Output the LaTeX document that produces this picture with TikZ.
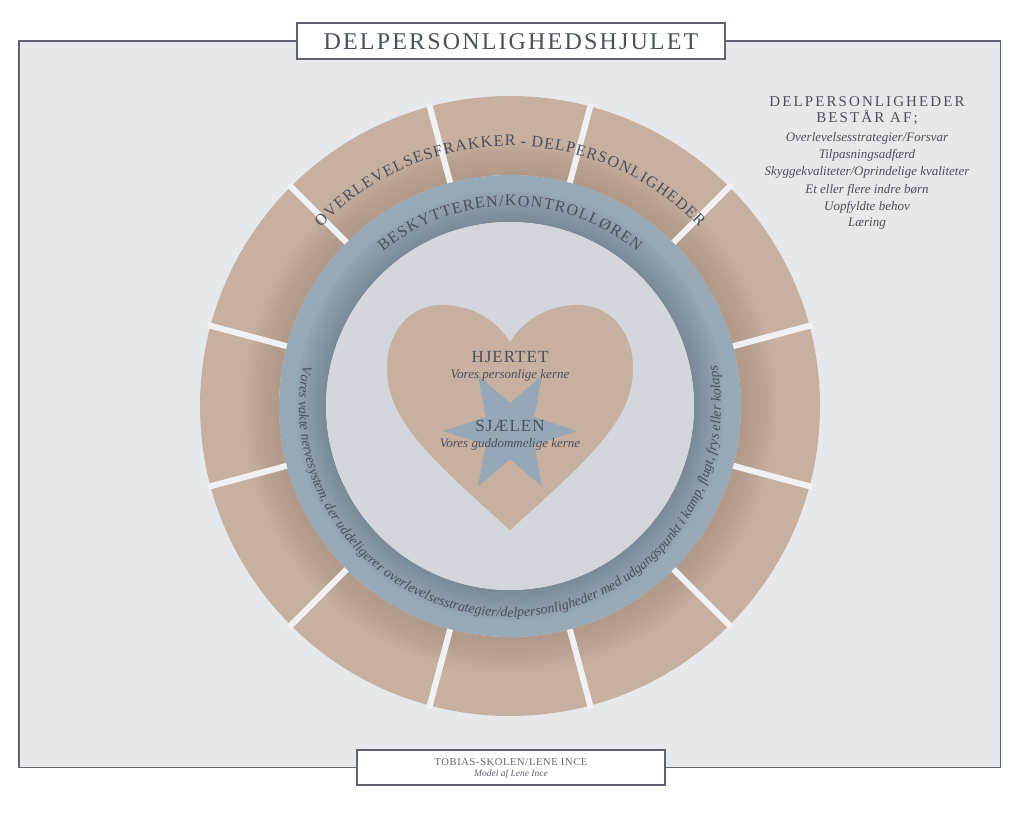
\documentclass[tikz,border=0pt]{standalone}
\usepackage{fontspec}
\setmainfont{Liberation Serif}
\usetikzlibrary{decorations.text}
\definecolor{bg}{HTML}{E7E8EB}
\definecolor{framec}{HTML}{5F6470}
\definecolor{tanc}{HTML}{C7B09F}
\definecolor{tandark}{HTML}{8E7666}
\definecolor{bluec}{HTML}{97A8B6}
\definecolor{bluedark}{HTML}{4E5A67}
\definecolor{innerc}{HTML}{D3D7DD}
\definecolor{gapc}{HTML}{F1F1F3}
\definecolor{txt}{HTML}{4A4F5C}
\definecolor{starc}{HTML}{96A8B8}
\newcommand\lspa{\kern1.15pt}
\newcommand\lspb{\kern1.2pt}
\tikzset{
  boxstyle/.style={draw=framec, line width=1.6pt, fill=white},
  captext/.style={text=txt, inner sep=0pt},
  ringtext/.style={decorate, decoration={text along path, text color=txt, text align=center}},
}
\begin{document}
\begin{tikzpicture}[x=1pt,y=1pt]
\useasboundingbox (0,0) rectangle (1024,815);
\fill[white] (0,0) rectangle (1024,815);
\fill[bg] (19,47.5) rectangle (1000.5,774);
\draw[framec, line width=1.4pt] (19,47.5) rectangle (1000.5,774);

\begin{scope}[shift={(510,409)}]
  % tan ring
  \fill[tanc, even odd rule] (0,0) circle (310) (0,0) circle (231);
  \foreach \k in {1,...,14}
    \fill[tandark, opacity=0.022, even odd rule] (0,0) circle ({231+2.6*\k}) (0,0) circle (231);
  \foreach \a in {15,45,...,345}
    \draw[gapc, line width=6pt] (\a:229) -- (\a:313);
  % blue ring
  \fill[bluec, even odd rule] (0,0) circle (231) (0,0) circle (184);
  \foreach \k in {1,...,14}
    \fill[bluedark, opacity=0.028, even odd rule] (0,0) circle ({184+2.2*\k}) (0,0) circle (184);
  % inner circle
  \fill[innerc] (0,0) circle (184);
  % heart
  \fill[tanc] (0,64) .. controls (-15,88) and (-40,101) .. (-68,101)
     .. controls (-102,101) and (-123,72) .. (-123,38)
     .. controls (-123,-12) and (-85,-48) .. (0,-124)
     .. controls (85,-48) and (123,-12) .. (123,38)
     .. controls (123,72) and (102,101) .. (68,101)
     .. controls (40,101) and (15,88) .. (0,64) -- cycle;
  % star
  \fill[starc, shift={(0,-25)}] (0:67) -- (30:28) -- (60:64) -- (90:28) -- (120:64) -- (150:28)
     -- (180:67) -- (210:28) -- (240:64) -- (270:28) -- (300:64) -- (330:28) -- cycle;
  % texts in heart
  \node[captext, font=\fontsize{17}{20}\selectfont\addfontfeature{LetterSpace=6}] (hj) at (0,49) {HJERTET};
  \node[captext, font=\fontsize{13}{15}\selectfont\itshape] (hjs) at (0,31) {Vores personlige kerne};
  \node[captext, font=\fontsize{17}{20}\selectfont\addfontfeature{LetterSpace=6}] (sj) at (0,-20) {SJÆLEN};
  \node[captext, font=\fontsize{13}{15}\selectfont\itshape] (sjs) at (0,-38) {Vores guddommelige kerne};
  % ring texts
  \path[ringtext, decoration={
     text={|\fontsize{16}{18}\selectfont|{O\lspa}{V\lspa}{E\lspa}{R\lspa}{L\lspa}{E\lspa}{V\lspa}{E\lspa}{L\lspa}{S\lspa}{E\lspa}{S\lspa}{F\lspa}{R\lspa}{A\lspa}{K\lspa}{K\lspa}{E\lspa}{R\lspa} {-\lspa} {D\lspa}{E\lspa}{L\lspa}{P\lspa}{E\lspa}{R\lspa}{S\lspa}{O\lspa}{N\lspa}{L\lspa}{I\lspa}{G\lspa}{H\lspa}{E\lspa}{D\lspa}{E\lspa}{R}}}]
     (140:260) arc[start angle=140, end angle=40, radius=260];
  \path[ringtext, decoration={
     text={|\fontsize{16}{18}\selectfont|{B\lspb}{E\lspb}{S\lspb}{K\lspb}{Y\lspb}{T\lspb}{T\lspb}{E\lspb}{R\lspb}{E\lspb}{N\lspb}{/\lspb}{K\lspb}{O\lspb}{N\lspb}{T\lspb}{R\lspb}{O\lspb}{L\lspb}{L\lspb}{Ø\lspb}{R\lspb}{E\lspb}{N}}}]
     (135:200) arc[start angle=135, end angle=45, radius=200];
  \path[ringtext, decoration={
     text={|\fontsize{14}{16}\selectfont\itshape|Vores vakte nervesystem, der uddeligerer overlevelsesstrategier/delpersonligheder med udgangspunkt i kamp, flugt, frys eller kolaps}}]
     (165:211) arc[start angle=165, end angle=375, radius=211];
\end{scope}

% title box
\draw[boxstyle] (297,756) rectangle (725,792);
\node[captext, font=\fontsize{24}{26}\selectfont\addfontfeature{LetterSpace=9}] (title) at (511,773) {DELPERSONLIGHEDSHJULET};

% bottom box
\draw[boxstyle] (357,30) rectangle (665,65);
\node[captext, text=framec, font=\fontsize{10.5}{12}\selectfont\addfontfeature{LetterSpace=6}] (b1) at (511,53) {TOBIAS-SKOLEN/LENE INCE};
\node[captext, text=framec, font=\fontsize{9.5}{11}\selectfont\itshape] (b2) at (511,41) {Model af Lene Ince};

% right block
\node[captext, font=\fontsize{15}{17}\selectfont\addfontfeature{LetterSpace=14}] (r1) at (867,713) {DELPERSONLIGHEDER};
\node[captext, font=\fontsize{15}{17}\selectfont\addfontfeature{LetterSpace=14}] (r2) at (867,697) {BESTÅR AF;};
\node[captext, font=\fontsize{13}{15}\selectfont\itshape] (r3) at (867,677) {Overlevelsesstrategier/Forsvar};
\node[captext, font=\fontsize{13}{15}\selectfont\itshape] (r4) at (867,660) {Tilpasningsadfærd};
\node[captext, font=\fontsize{13}{15}\selectfont\itshape] (r5) at (867,643) {Skyggekvaliteter/Oprindelige kvaliteter};
\node[captext, font=\fontsize{13}{15}\selectfont\itshape] (r6) at (867,625) {Et eller flere indre børn};
\node[captext, font=\fontsize{13}{15}\selectfont\itshape] (r7) at (867,608) {Uopfyldte behov};
\node[captext, font=\fontsize{13}{15}\selectfont\itshape] (r8) at (867,591) {Læring};
\end{tikzpicture}
\end{document}
